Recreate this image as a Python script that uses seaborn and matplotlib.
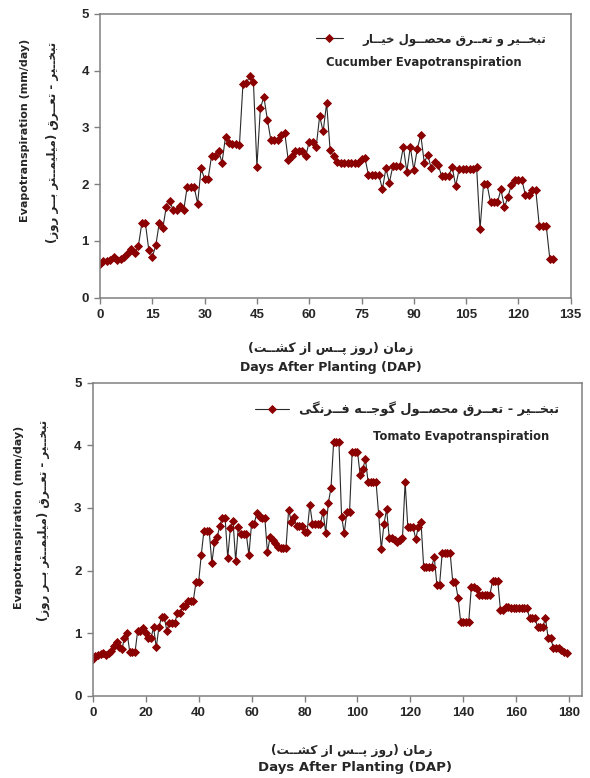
import numpy as np
import pandas as pd
import matplotlib
matplotlib.use("Agg")
import matplotlib.pyplot as plt
import seaborn as sns

# ---------------- data ----------------
cucumber_days = list(range(0, 131))
cucumber_et = [
    0.59, 0.64, 0.65, 0.66, 0.71, 0.66, 0.69, 0.72, 0.79, 0.85,
    0.78, 0.91, 1.31, 1.32, 0.84, 0.72, 0.92, 1.32, 1.22, 1.60,
    1.71, 1.54, 1.54, 1.62, 1.54, 1.95, 1.95, 1.95, 1.66, 2.28,
    2.09, 2.09, 2.50, 2.50, 2.59, 2.38, 2.84, 2.72, 2.71, 2.71,
    2.70, 3.77, 3.79, 3.91, 3.81, 2.31, 3.34, 3.54, 3.14, 2.78,
    2.78, 2.78, 2.87, 2.90, 2.42, 2.50, 2.59, 2.59, 2.59, 2.49,
    2.75, 2.75, 2.66, 3.20, 2.93, 3.43, 2.60, 2.49, 2.40, 2.38,
    2.38, 2.38, 2.38, 2.38, 2.38, 2.44, 2.46, 2.16, 2.16, 2.16,
    2.16, 1.91, 2.28, 2.03, 2.32, 2.32, 2.32, 2.66, 2.22, 2.66,
    2.25, 2.62, 2.87, 2.38, 2.52, 2.28, 2.40, 2.34, 2.14, 2.14,
    2.14, 2.31, 1.97, 2.26, 2.26, 2.26, 2.26, 2.26, 2.31, 1.21,
    2.00, 2.00, 1.68, 1.68, 1.68, 1.91, 1.59, 1.78, 1.99, 2.08,
    2.08, 2.08, 1.81, 1.81, 1.89, 1.89, 1.26, 1.26, 1.26, 0.69,
    0.69,
]

tomato_days = list(range(0, 180))
tomato_et = [
    0.58, 0.63, 0.65, 0.67, 0.69, 0.65, 0.69, 0.72, 0.79, 0.85,
    0.78, 0.74, 0.92, 1.00, 0.70, 0.70, 0.70, 1.04, 1.04, 1.08,
    1.00, 0.92, 0.92, 1.09, 0.77, 1.09, 1.26, 1.26, 1.04, 1.16,
    1.16, 1.16, 1.32, 1.32, 1.43, 1.43, 1.52, 1.52, 1.52, 1.81,
    1.81, 2.25, 2.63, 2.63, 2.63, 2.12, 2.45, 2.53, 2.71, 2.84,
    2.84, 2.20, 2.68, 2.79, 2.15, 2.70, 2.58, 2.58, 2.58, 2.25,
    2.75, 2.75, 2.92, 2.85, 2.84, 2.84, 2.29, 2.54, 2.49, 2.44,
    2.37, 2.36, 2.36, 2.36, 2.97, 2.78, 2.86, 2.71, 2.71, 2.71,
    2.62, 2.62, 3.05, 2.75, 2.75, 2.75, 2.75, 2.94, 2.60, 3.08,
    3.32, 4.05, 4.05, 4.05, 2.86, 2.60, 2.93, 2.93, 3.90, 3.90,
    3.90, 3.53, 3.62, 3.78, 3.42, 3.42, 3.42, 3.42, 2.90, 2.34,
    2.74, 2.98, 2.52, 2.52, 2.49, 2.46, 2.49, 2.52, 3.41, 2.70,
    2.70, 2.70, 2.50, 2.70, 2.77, 2.06, 2.06, 2.06, 2.06, 2.21,
    1.77, 1.77, 2.28, 2.28, 2.28, 2.28, 1.81, 1.81, 1.56, 1.17,
    1.17, 1.17, 1.17, 1.73, 1.73, 1.70, 1.61, 1.61, 1.61, 1.61,
    1.61, 1.83, 1.83, 1.83, 1.37, 1.37, 1.42, 1.41, 1.40, 1.40,
    1.40, 1.40, 1.40, 1.40, 1.40, 1.24, 1.24, 1.24, 1.10, 1.10,
    1.10, 1.24, 0.92, 0.92, 0.76, 0.76, 0.76, 0.73, 0.70, 0.69,
]

cucumber_xticks = [0, 15, 30, 45, 60, 75, 90, 105, 120, 135]
tomato_xticks = [0, 20, 40, 60, 80, 100, 120, 140, 160, 180]
yticks = [0, 1, 2, 3, 4, 5]

cucumber_legend_fa = "تبخــیر و تعــرق محصــول خیــار"
cucumber_legend_en = "Cucumber Evapotranspiration"
tomato_legend_fa = "تبخــیر - تعــرق محصــول گوجــه فــرنگی"
tomato_legend_en = "Tomato Evapotranspiration"
ylabel_en = "Evapotranspiration (mm/day)"
ylabel_fa = "تبخــیر - تعــرق (میلیمــتر بــر روز)"
xlabel_fa = "زمان (روز پــس از کشــت)"
xlabel_en = "Days After Planting (DAP)"

# ------------- simple Persian shaping (presentation forms) -------------
FORMS = {
    'ا': ('\uFE8D', '\uFE8E', None, None),
    'ب': ('\uFE8F', '\uFE90', '\uFE91', '\uFE92'),
    'پ': ('\uFB56', '\uFB57', '\uFB58', '\uFB59'),
    'ت': ('\uFE95', '\uFE96', '\uFE97', '\uFE98'),
    'ج': ('\uFE9D', '\uFE9E', '\uFE9F', '\uFEA0'),
    'ح': ('\uFEA1', '\uFEA2', '\uFEA3', '\uFEA4'),
    'خ': ('\uFEA5', '\uFEA6', '\uFEA7', '\uFEA8'),
    'ر': ('\uFEAD', '\uFEAE', None, None),
    'ز': ('\uFEAF', '\uFEB0', None, None),
    'س': ('\uFEB1', '\uFEB2', '\uFEB3', '\uFEB4'),
    'ش': ('\uFEB5', '\uFEB6', '\uFEB7', '\uFEB8'),
    'ص': ('\uFEB9', '\uFEBA', '\uFEBB', '\uFEBC'),
    'ع': ('\uFEC9', '\uFECA', '\uFECB', '\uFECC'),
    'ف': ('\uFED1', '\uFED2', '\uFED3', '\uFED4'),
    'ق': ('\uFED5', '\uFED6', '\uFED7', '\uFED8'),
    'ک': ('\uFB8E', '\uFB8F', '\uFB90', '\uFB91'),
    'گ': ('\uFB92', '\uFB93', '\uFB94', '\uFB95'),
    'ل': ('\uFEDD', '\uFEDE', '\uFEDF', '\uFEE0'),
    'م': ('\uFEE1', '\uFEE2', '\uFEE3', '\uFEE4'),
    'ن': ('\uFEE5', '\uFEE6', '\uFEE7', '\uFEE8'),
    'ه': ('\uFEE9', '\uFEEA', '\uFEEB', '\uFEEC'),
    'و': ('\uFEED', '\uFEEE', None, None),
    'ی': ('\uFBFC', '\uFBFD', '\uFBFE', '\uFBFF'),
    'ـ': ('ـ', 'ـ', 'ـ', 'ـ'),
}


def fa(s):
    out = []
    for i, c in enumerate(s):
        if c not in FORMS:
            out.append(c)
            continue
        prev = s[i - 1] if i > 0 else None
        nxt = s[i + 1] if i + 1 < len(s) else None
        jp = prev in FORMS and FORMS[prev][2] is not None
        jn = FORMS[c][2] is not None and nxt in FORMS
        iso, fin, ini, med = FORMS[c]
        if jp and jn:
            g = med
        elif jp:
            g = fin
        elif jn:
            g = ini
        else:
            g = iso
        out.append(g)
    vis = ''.join(reversed(out))
    return vis.translate(str.maketrans('()', ')('))


# ---------------- style ----------------
sns.set_theme(style="white")
plt.rcParams['font.family'] = ['Liberation Sans', 'DejaVu Sans']
FA_FAMILY = ['DejaVu Sans']
EN_FAMILY = ['DejaVu Sans']
SPINE = '#808080'

W, H = 590, 778
fig = plt.figure(figsize=(W / 100, H / 100), dpi=100)
fig.patch.set_facecolor('white')


def px_axes(l, r, t, b):
    return fig.add_axes([l / W, 1 - b / H, (r - l) / W, (b - t) / H])


def style_axes(ax, xticks, xlim):
    ax.set_xlim(*xlim)
    ax.set_ylim(0, 5)
    ax.set_xticks(xticks)
    ax.set_yticks(yticks)
    for s in ax.spines.values():
        s.set_color(SPINE)
        s.set_linewidth(1.1)
        s.set_visible(True)
    ax.tick_params(axis='both', which='major', direction='out', length=4,
                   width=1, color=SPINE, labelsize=9.5, pad=4,
                   bottom=True, left=True)
    for lab in ax.get_xticklabels() + ax.get_yticklabels():
        lab.set_fontweight('bold')
    ax.set_xlabel('')
    ax.set_ylabel('')
    ax.grid(False)


def draw(ax, days, vals):
    df = pd.DataFrame({'day': days, 'et': vals})
    sns.lineplot(data=df, x='day', y='et', ax=ax, color='#2a2a2a',
                 linewidth=0.8, marker='D', markersize=4.0,
                 markerfacecolor='#8b0000', markeredgecolor='#8b0000',
                 markeredgewidth=0.6, legend=False, errorbar=None)
    return ax.lines[-1]


# ---- top: cucumber ----
ax1 = px_axes(100, 570.7, 14, 297.7)
ln1 = draw(ax1, cucumber_days, cucumber_et)
style_axes(ax1, cucumber_xticks, (0, 135))
ax1.legend([ln1], [fa(cucumber_legend_fa)], loc='upper left',
           bbox_to_anchor=(0.458, 0.935), frameon=False,
           borderpad=0, borderaxespad=0, handlelength=2.3,
           handletextpad=1.7,
           prop={'family': FA_FAMILY, 'size': 8.5, 'weight': 'bold'})
ax1.text(0.688, 0.828, cucumber_legend_en, transform=ax1.transAxes,
         ha='center', va='center', fontsize=8.4, fontweight='bold',
         family=EN_FAMILY)

# ---- bottom: tomato ----
ax2 = px_axes(92.7, 582, 382.7, 695.7)
ln2 = draw(ax2, tomato_days, tomato_et)
style_axes(ax2, tomato_xticks, (0, 184.8))
ax2.legend([ln2], [fa(tomato_legend_fa)], loc='upper left',
           bbox_to_anchor=(0.332, 0.94), frameon=False,
           borderpad=0, borderaxespad=0, handlelength=2.6,
           handletextpad=0.8,
           prop={'family': FA_FAMILY, 'size': 9.3, 'weight': 'bold'})
ax2.text(0.752, 0.827, tomato_legend_en, transform=ax2.transAxes,
         ha='center', va='center', fontsize=8.3, fontweight='bold',
         family=EN_FAMILY)

# ---- axis titles (figure text) ----
def ftext(x, y, s, **kw):
    fig.text(x / W, 1 - y / H, s, ha='center', va='center', **kw)

ftext(25, 130, ylabel_en, rotation=90, fontsize=8, fontweight='bold',
      family=EN_FAMILY)
ftext(52, 142, fa(ylabel_fa), rotation=90, fontsize=8.5, fontweight='bold',
      family=FA_FAMILY)
ftext(19, 517, ylabel_en, rotation=90, fontsize=8, fontweight='bold',
      family=EN_FAMILY)
ftext(43, 520, fa(ylabel_fa), rotation=90, fontsize=8.5, fontweight='bold',
      family=FA_FAMILY)

ftext(331, 349, fa(xlabel_fa), fontsize=9, fontweight='bold', family=FA_FAMILY)
ftext(331, 367, xlabel_en, fontsize=9, fontweight='bold', family=EN_FAMILY)
ftext(352, 750, fa(xlabel_fa), fontsize=8.8, fontweight='bold', family=FA_FAMILY)
ftext(355, 768, xlabel_en, fontsize=9.5, fontweight='bold', family=EN_FAMILY)

fig.savefig('out.png', dpi=100, facecolor='white')
